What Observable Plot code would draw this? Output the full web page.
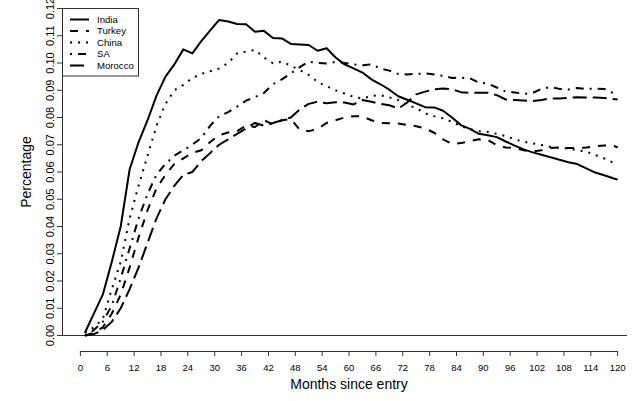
<!DOCTYPE html>
<html><head><meta charset="utf-8">
<script src="https://cdn.jsdelivr.net/npm/d3@7"></script>
<script src="https://cdn.jsdelivr.net/npm/@observablehq/plot@0.6"></script>
<style>
body{margin:0;background:#fff;}
#chart{position:relative;width:640px;height:401px;}
#chart svg{display:block;}
</style>
</head><body><div id="chart"></div>
<script>
const countries = ["India","Turkey","China","SA","Morocco"];
const dashPatterns = ["none","8,8","2,6","2,6,8,6","14,6"];
const months = [1,3,5,7,9,11,13,15,17,19,21,23,25,27,29,31,33,35,37,39,41,43,45,47,49,51,53,55,57,59,61,63,65,67,69,71,73,75,77,79,81,83,85,87,89,91,93,95,97,99,101,103,105,107,109,111,113,115,117,119,120];
const india = [.001,.008,.015,.027,.040,.061,.071,.079,.088,.095,.0995,.105,.1035,.108,.112,.1158,.1152,.1143,.1142,.1115,.1118,.1092,.109,.107,.1068,.1066,.1045,.1054,.102,.0995,.098,.0965,.094,.0922,.0902,.0878,.0865,.0852,.0838,.0837,.0825,.080,.0772,.0758,.074,.0735,.0728,.0712,.0697,.0683,.0672,.0663,.0654,.0645,.0636,.0629,.0613,.0598,.0588,.0577,.0572];
const turkey = [.000,.001,.003,.008,.015,.025,.036,.046,.054,.059,.063,.065,.067,.068,.071,.0735,.0745,.075,.077,.0765,.079,.0775,.079,.0795,.0755,.075,.0758,.078,.079,.080,.0805,.0804,.079,.078,.0779,.0778,.0773,.0768,.076,.0744,.072,.0703,.0706,.0713,.072,.0718,.0698,.069,.0688,.068,.0675,.068,.0688,.069,.0688,.0688,.069,.0695,.0697,.0697,.069];
const china = [.001,.003,.006,.017,.027,.043,.055,.066,.077,.085,.090,.092,.0945,.096,.097,.098,.100,.1035,.1042,.1048,.102,.0999,.1005,.099,.0974,.0956,.093,.0915,.090,.0888,.0876,.087,.0879,.0882,.0874,.0864,.0845,.0835,.0815,.0805,.0797,.0784,.0768,.0757,.075,.0747,.074,.0732,.072,.0711,.0705,.0699,.0692,.0689,.0686,.068,.0675,.0662,.065,.0634,.0628];
const sa = [.000,.002,.005,.011,.021,.032,.043,.052,.059,.063,.066,.068,.070,.0725,.077,.0805,.082,.084,.0862,.0875,.089,.0922,.094,.0962,.0985,.1005,.100,.0998,.1004,.100,.0995,.0992,.0995,.098,.0972,.096,.0958,.096,.0962,.0958,.0953,.0945,.0946,.0944,.0928,.0925,.091,.0895,.0892,.0887,.089,.0905,.0912,.0905,.0903,.0908,.0905,.0906,.0905,.089,.0888];
const morocco = [.000,.0005,.002,.005,.010,.017,.025,.034,.043,.050,.055,.059,.060,.064,.067,.070,.072,.074,.076,.078,.077,.078,.079,.080,.083,.085,.0858,.0852,.0856,.0855,.0848,.0864,.0858,.085,.0845,.0833,.0855,.0885,.0895,.0903,.0906,.0904,.0893,.089,.0891,.0891,.0882,.0866,.0864,.0862,.086,.0864,.087,.087,.0872,.0874,.0873,.0873,.0872,.0868,.0866];
const xTicks = d3.range(0, 121, 6);
const yTicks = d3.range(0, 0.1201, 0.01);
const xDomain = [-4, 122.2];
const yDomain = [0, 0.12];

const seriesValues = [india, turkey, china, sa, morocco];
const data = countries.map((c, i) => months.map((m, j) => ({country: c, month: m, value: seriesValues[i][j]})));

const font = "'Liberation Sans', Arial, Helvetica, sans-serif";
const chart = Plot.plot({
  width: 640, height: 401,
  marginLeft: 62, marginRight: 13, marginTop: 8, marginBottom: 66,
  x: {domain: xDomain},
  y: {domain: yDomain},
  style: {fontFamily: font, background: "white", color: "black"},
  marks: [
    Plot.ruleY([0], {stroke: "#333"}),
    Plot.ruleX([xDomain[0]], {stroke: "#333"}),
    Plot.axisY(yTicks, {anchor: "left", tickSize: 5, tickPadding: 4, tickFormat: d3.format(".2f"), tickRotate: -90, fontSize: 11, label: null, stroke: "#333"}),
    Plot.axisX(xTicks, {anchor: "bottom", tickSize: 5, tickPadding: 8, dy: 16, fontSize: 9.5, label: null, stroke: "#333"}),
    Plot.ruleY([0], {x1: xTicks[0], x2: xTicks[xTicks.length - 1], dy: 16, stroke: "#333"}),
    ...data.map((d, i) => Plot.line(d, {x: "month", y: "value", stroke: "black", strokeWidth: 2, strokeDasharray: dashPatterns[i] === "none" ? null : dashPatterns[i], strokeLinecap: "butt", strokeLinejoin: "round"})),
    Plot.text(["Percentage"], {frameAnchor: "left", dx: -36, rotate: -90, fontSize: 14, textAnchor: "middle", lineAnchor: "middle"}),
    Plot.text(["Months since entry"], {frameAnchor: "bottom", dy: 49, dx: 4, fontSize: 14, textAnchor: "middle", lineAnchor: "middle"})
  ]
});
document.getElementById("chart").appendChild(chart);

// legend (top-left, inside plot area)
const svg = d3.select(chart);
const lg = svg.append("g").attr("font-family", font).attr("font-size", 9.6).attr("text-anchor", "start");
lg.append("rect").attr("x", 62.5).attr("y", 8.5).attr("width", 76).attr("height", 67.5).attr("fill", "white").attr("stroke", "#333");
countries.forEach((c, i) => {
  const y = 19.5 + i * 11.5;
  lg.append("line").attr("x1", 70).attr("x2", 89).attr("y1", y).attr("y2", y)
    .attr("stroke", "black").attr("stroke-width", 2)
    .attr("stroke-dasharray", dashPatterns[i] === "none" ? null : dashPatterns[i]);
  lg.append("text").attr("x", 97).attr("y", y).attr("dy", "0.35em").attr("text-anchor", "start").attr("fill", "black").text(c);
});
</script>
</body></html>
